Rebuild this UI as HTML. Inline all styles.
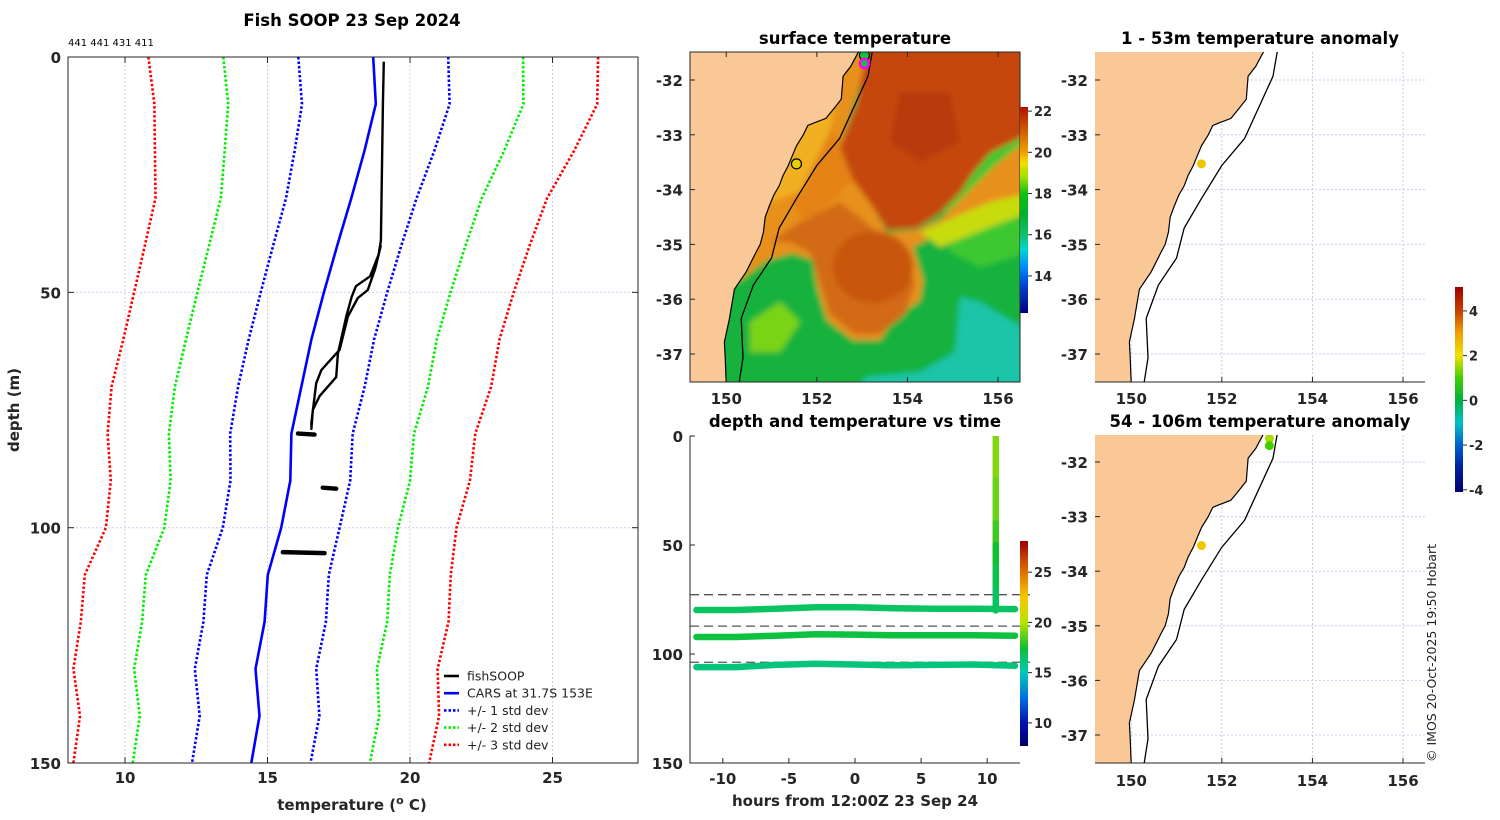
<!DOCTYPE html>
<html><head><meta charset="utf-8"><style>
html,body{margin:0;padding:0;background:#fff;}
svg{display:block;font-family:"DejaVu Sans","Liberation Sans",sans-serif;}
.tk{font-size:15px;font-weight:bold;fill:#262626;}
.ttl{font-size:16.5px;font-weight:bold;fill:#000;}
</style></head><body>
<svg id="fig" width="1500" height="820" viewBox="0 0 1500 820" xmlns="http://www.w3.org/2000/svg">
<defs>
<clipPath id="clipProf"><rect x="68" y="57" width="570" height="706"/></clipPath>
<clipPath id="clipSST"><rect x="690" y="52" width="330" height="330"/></clipPath>
<clipPath id="clipA1"><rect x="1095" y="52" width="330" height="330"/></clipPath>
<clipPath id="clipA2"><rect x="1095" y="435" width="330" height="328"/></clipPath>
<clipPath id="clipDT"><rect x="690" y="436" width="340" height="327"/></clipPath>
<filter id="blur" x="-5%" y="-5%" width="110%" height="110%"><feGaussianBlur stdDeviation="3"/></filter>
</defs>

<text class="ttl" x="352" y="26" text-anchor="middle">Fish SOOP 23 Sep 2024</text>
<text x="68" y="46" font-size="10" fill="#000">441 441 431 411</text>
<g id="profGrid"></g>
<g id="profMarks" clip-path="url(#clipProf)"></g>
<rect x="68" y="57" width="570" height="706" fill="none" stroke="#262626" stroke-width="1"/>
<g id="profTicks"></g>
<text class="tk" x="352" y="810" text-anchor="middle" font-size="16.5">temperature (<tspan font-size="11" dy="-6">o</tspan><tspan dy="6"> C)</tspan></text>
<text class="tk" transform="translate(19,410) rotate(-90)" text-anchor="middle" font-size="16.5">depth (m)</text>
<g id="legend"></g>

<text class="ttl" x="855" y="44" text-anchor="middle">surface temperature</text>
<g clip-path="url(#clipSST)">
 <g transform="translate(690,52)" filter="url(#blur)">
  <rect x="-10" y="-10" width="350" height="350" fill="#14b23c"/>
  <path d="M250,110 L340,80 L340,200 L290,215 L260,200 Z" fill="#3cc830"/>
  <path d="M137,-10 L183,-10 L150,95 L163,128 L183,155 L197,181 L227,178 L250,168 L283,135 L303,115 L340,85 L340,141 L300,155 L250,181 L223,195 L233,228 L230,248 L203,268 L190,288 L163,288 L137,268 L127,235 L123,208 L103,201 L77,208 L50,228 L33,235 L20,-10 Z" fill="#e8901a"/>
  <path d="M150,150 L200,190 L225,230 L215,262 L190,282 L165,282 L140,262 L130,230 L120,200 L100,190 L80,190 L110,170 Z" fill="#d26a12"/>
  <ellipse cx="183" cy="215" rx="40" ry="36" fill="#c8560f"/>
  <path d="M178,-10 L340,-10 L340,81 L300,101 L283,121 L270,141 L250,161 L227,176 L197,178 L183,155 L163,128 L150,95 L167,51 Z" fill="#c5470f"/>
  <path d="M210,40 L260,40 L270,90 L230,110 L200,90 Z" fill="#b83a0c"/>
  <path d="M140,70 L150,95 L163,128 L140,150 L115,170 L100,150 L120,110 Z" fill="#e48218"/>
  <path d="M70,100 L110,80 L130,50 L150,20 L140,80 L110,140 L80,150 L60,140 Z" fill="#f0b020"/>
  <path d="M230,180 L300,150 L340,141 L340,160 L300,175 L250,195 Z" fill="#c8dc10"/>
  <path d="M175,325 L230,320 L265,300 L270,245 L290,250 L340,280 L340,340 L170,340 Z" fill="#1cc4a8"/>
  <path d="M60,270 L90,250 L110,270 L90,300 L60,300 Z" fill="#7ad414"/>
 </g>
 <g id="sstOverlay"></g>
</g>
<rect x="690" y="52" width="330" height="330" fill="none" stroke="#262626" stroke-width="1"/>
<g id="sstTicks"></g>
<rect x="1020" y="107" width="8" height="206" fill="url(#gSST)"/>

<text class="ttl" x="1260" y="44" text-anchor="middle">1 - 53m temperature anomaly</text>
<text class="ttl" x="1260" y="427" text-anchor="middle">54 - 106m temperature anomaly</text>
<g id="a1" clip-path="url(#clipA1)"></g>
<g id="a2" clip-path="url(#clipA2)"></g>
<g id="aTicks"></g>
<rect x="1455" y="287" width="8" height="205" fill="url(#gANOM)"/>
<text transform="translate(1436,762) rotate(-90)" font-size="12.5" fill="#222">© IMOS 20-Oct-2025 19:50 Hobart</text>

<text class="ttl" x="855" y="427" text-anchor="middle">depth and temperature vs time</text>
<g id="dt" clip-path="url(#clipDT)"></g>
<path d="M690,436 L690,763 L1020,763" fill="none" stroke="#262626" stroke-width="1"/>
<g id="dtTicks"></g>
<rect x="1020" y="541" width="8" height="205" fill="url(#gDT)"/>
<text class="tk" x="855" y="806" text-anchor="middle" font-size="16.5">hours from 12:00Z 23 Sep 24</text>
</svg>

<script>
const profDepth=[0,10,20,30,40,50,60,70,80,90,100,110,120,130,140,150];
const carsMean=[18.71,18.8,18.4,17.94,17.45,16.98,16.54,16.19,15.84,15.8,15.48,15.01,14.9,14.58,14.72,14.43];
const carsSd=[2.63,2.59,2.45,2.29,2.25,2.22,2.2,2.22,2.15,2.1,2.05,2.14,2.15,2.13,2.1,2.08];
const fishDepth=[1,10,39,42,46.6,48.7,51,55,63,68,72,75,79,77.7,69.3,66.5,62.2,55.1,51.2,49.5,45,40];
const fishTemp=[19.08,19.05,18.98,18.9,18.6,18.1,17.95,17.77,17.47,17.41,16.83,16.59,16.54,16.54,16.71,16.89,17.53,17.82,18.17,18.52,18.78,18.98];
const blobDepth=[80,91.5,105.2];
const blobTmin=[16.07,16.94,15.54];
const blobTmax=[16.65,17.41,17.0];
const tempTicks=[10,15,20,25];
const depthTicks=[0,50,100,150];
const dtHours=[-12,-9,-6,-3,0,3,6,9,12.1];
const dtDepth1=[79.8,79.8,79.2,78.6,78.6,79,79.2,79.2,79.4];
const dtDepth2=[92.2,92.2,91.6,90.9,91.1,91.4,91.4,91.4,91.6];
const dtDepth3=[106,106,105,104.5,104.8,105.2,105,104.8,105.4];
const dtTemp=[16.6,17.2,16.1];
const dashDepth=[72.8,87.2,103.8];
const castHour=10.65;
const castDepth=[0,20,40,50,60,70,80];
const castTemp=[19.3,19.1,18.6,17.8,17.2,16.8,16.5];
const hourTicks=[-10,-5,0,5,10];
const coastLon=[152.95,152.91,152.75,152.58,152.54,152.35,152.2,151.95,151.8,151.7,151.55,151.45,151.37,151.25,151.17,151.05,150.95,150.86,150.82,150.75,150.66,150.44,150.18,150.07,149.96,149.98,150.0];
const coastLat=[-31.45,-31.5,-31.75,-31.93,-32.35,-32.55,-32.7,-32.78,-32.83,-33.0,-33.2,-33.4,-33.56,-33.75,-33.93,-34.1,-34.3,-34.5,-34.78,-35.0,-35.14,-35.5,-35.82,-36.36,-36.78,-37.1,-37.55];
const isoLon=[153.24,153.22,153.13,152.87,152.5,152.0,151.55,151.17,151.0,150.6,150.33,150.37,150.28];
const isoLat=[-31.45,-31.5,-31.93,-32.4,-33.07,-33.56,-34.16,-34.7,-35.25,-35.74,-36.35,-37.07,-37.55];
const lonTicks=[150,152,154,156];
const latTicks=[-32,-33,-34,-35,-36,-37];
const anom1Lon=[151.55], anom1Lat=[-33.53], anom1Val=[2.4];
const anom2Lon=[151.55,153.05,153.05], anom2Lat=[-33.53,-31.57,-31.7], anom2Val=[2.4,1.6,1.0];
const sstTicks=[14,16,18,20,22];
const dtCbTicks=[10,15,20,25];
const anomTicks=[-4,-2,0,2,4];
const sstStopV=[12.2,13.5,14.5,15.3,16,17,18,18.8,19.5,20,21,22.2];
const sstStopC=['#00007f','#0040d0','#0090ff','#00d8d0','#10c070','#00b030','#10c010','#a0e000','#f0e000','#f0a000','#d06000','#b01000'];
const dtStopV=[7.7,10,12.5,15,17.5,20,22.5,25,28.1];
const dtStopC=['#00006a','#0010b0','#0070e0','#00c8b8','#10c030','#b8e400','#f8c800','#e07000','#a00000'];
const anStopV=[-4.1,-3,-2,-1,0,1,2,3,4,5.07];
const anStopC=['#000070','#0020a0','#0060d0','#00c0c8','#00b040','#40d000','#f0e000','#f0a000','#c84000','#a00000'];

const NS='http://www.w3.org/2000/svg';
function mk(tag,attrs,parent){const e=document.createElementNS(NS,tag);for(const k in attrs)e.setAttribute(k,attrs[k]);parent.appendChild(e);return e;}
function hex(c){return [parseInt(c.substr(1,2),16),parseInt(c.substr(3,2),16),parseInt(c.substr(5,2),16)];}
function cmap(v,sv,sc){if(v<=sv[0])return sc[0];for(let i=1;i<sv.length;i++){if(v<=sv[i]){const f=(v-sv[i-1])/(sv[i]-sv[i-1]);const a=hex(sc[i-1]),b=hex(sc[i]);return 'rgb('+a.map((x,j)=>Math.round(x+(b[j]-x)*f)).join(',')+')';}}return sc[sc.length-1];}
const defs=document.querySelector('defs');
function grad(id,sv,sc){const g=mk('linearGradient',{id:id,x1:0,y1:1,x2:0,y2:0},defs);const lo=sv[0],hi=sv[sv.length-1];sv.forEach((v,i)=>mk('stop',{offset:((v-lo)/(hi-lo)).toFixed(3),'stop-color':sc[i]},g));}
grad('gSST',sstStopV,sstStopC);grad('gDT',dtStopV,dtStopC);grad('gANOM',anStopV,anStopC);

const xT=t=>68+(t-8)*28.5, yD=d=>57+d*4.707;
const pg=document.getElementById('profGrid');
tempTicks.forEach(t=>{const l=mk('line',{x1:xT(t),x2:xT(t),y1:57,y2:763,stroke:'#d4cce8','stroke-width':1,'stroke-dasharray':'2,2'},pg);

});
depthTicks.slice(1,3).forEach(d=>{const l=mk('line',{x1:68,x2:638,y1:yD(d),y2:yD(d),stroke:'#ccd0ee','stroke-width':1,'stroke-dasharray':'2,2'},pg);

});
const pm=document.getElementById('profMarks');
const bands=[[3,'#ff0000'],[2,'#00ee00'],[1,'#0000ff']];
bands.forEach(([k,c])=>{[-1,1].forEach(s=>{const pts=profDepth.map((d,i)=>xT(carsMean[i]+s*k*carsSd[i]).toFixed(1)+','+yD(d).toFixed(1)).join(' ');
const p=mk('polyline',{points:pts,fill:'none',stroke:c,'stroke-width':2.6,'stroke-dasharray':'2.5,2'},pm);

});});
const cars=mk('polyline',{points:profDepth.map((d,i)=>xT(carsMean[i]).toFixed(1)+','+yD(d).toFixed(1)).join(' '),fill:'none',stroke:'#0000ff','stroke-width':2.6},pm);


const fish=mk('polyline',{points:fishDepth.map((d,i)=>xT(fishTemp[i]).toFixed(1)+','+yD(d).toFixed(1)).join(' '),fill:'none',stroke:'#000','stroke-width':2.4,'stroke-linejoin':'round'},pm);


blobDepth.forEach((d,i)=>{const b=mk('line',{x1:xT(blobTmin[i]),x2:xT(blobTmax[i]),y1:yD(d),y2:yD(d)+1,stroke:'#000','stroke-width':4.5,'stroke-linecap':'round'},pm);

});
const pt=document.getElementById('profTicks');
tempTicks.forEach(t=>{mk('line',{x1:xT(t),x2:xT(t),y1:763,y2:757,stroke:'#262626'},pt);mk('line',{x1:xT(t),x2:xT(t),y1:57,y2:63,stroke:'#262626'},pt);
const tx=mk('text',{x:xT(t),y:783,'text-anchor':'middle',class:'tk'},pt);tx.textContent=t;

});
depthTicks.forEach(d=>{mk('line',{x1:68,x2:74,y1:yD(d),y2:yD(d),stroke:'#262626'},pt);mk('line',{x1:632,x2:638,y1:yD(d),y2:yD(d),stroke:'#262626'},pt);
const tx=mk('text',{x:61,y:yD(d)+6,'text-anchor':'end',class:'tk'},pt);tx.textContent=d;

});
const lg=document.getElementById('legend');
const legItems=[['fishSOOP','#000',''],['CARS at 31.7S 153E','#0000ff',''],['+/- 1 std dev','#0000ff','2.5,2'],['+/- 2 std dev','#00ee00','2.5,2'],['+/- 3 std dev','#ff0000','2.5,2']];
legItems.forEach((it,i)=>{const y=676+i*17.2;const l=mk('line',{x1:444,x2:459,y1:y,y2:y,stroke:it[1],'stroke-width':2.6,'stroke-dasharray':it[2]||'none'},lg);


const t=mk('text',{x:467,y:y+4.5,'font-size':12.5,fill:'#222'},lg);t.textContent=it[0];

});

const lonX=(x0)=>lon=>x0+(lon-149.2)*45.3;
function drawMap(g,x0,yref,scale,yTop,yBot,withLand,withGrid){
 const X=lonX(x0), Y=lat=>yref+(-32-lat)*scale;
 if(withGrid){lonTicks.forEach(l=>{const e=mk('line',{x1:X(l),x2:X(l),y1:yTop,y2:yBot,stroke:'#c8cce8','stroke-dasharray':'2,2'},g);
 
 });
 latTicks.forEach(l=>{const e=mk('line',{x1:x0,x2:x0+330,y1:Y(l),y2:Y(l),stroke:'#c8cce8','stroke-dasharray':'2,2'},g);
 
 });}
 let d='M'+(x0-5)+','+(yTop-5);
 coastLon.forEach((lo,i)=>{d+=' L'+X(lo).toFixed(1)+','+Y(coastLat[i]).toFixed(1);});
 d+=' L'+(x0-5)+','+(yBot+5)+' Z';
 const land=mk('path',{d:d,fill:'#fac896',stroke:'#000','stroke-width':1.2},g);
 
 
 const iso=mk('polyline',{points:isoLon.map((lo,i)=>X(lo).toFixed(1)+','+Y(isoLat[i]).toFixed(1)).join(' '),fill:'none',stroke:'#000','stroke-width':1.3},g);
 
 
 return [X,Y];
}
function mapTicks(g,x0,yref,scale,yTop,yBot,lonLabY){
 const X=lonX(x0), Y=lat=>yref+(-32-lat)*scale;
 lonTicks.forEach(l=>{mk('line',{x1:X(l),x2:X(l),y1:yBot,y2:yBot-5,stroke:'#262626'},g);
 const t=mk('text',{x:X(l),y:lonLabY,'text-anchor':'middle',class:'tk'},g);t.textContent=l;
 
 });
 latTicks.forEach(l=>{mk('line',{x1:x0,x2:x0+5,y1:Y(l),y2:Y(l),stroke:'#262626'},g);
 const t=mk('text',{x:x0-7,y:Y(l)+6,'text-anchor':'end',class:'tk'},g);t.textContent=l;
 
 });
}
const so=document.getElementById('sstOverlay');
const [sX,sY]=drawMap(so,690,80,54.8,52,382,true,false);
const c1=mk('circle',{cx:sX(153.05),cy:sY(-31.55),r:5,fill:'#10c040',stroke:'#000','stroke-width':1},so);


const c2=mk('circle',{cx:sX(153.05),cy:sY(-31.7),r:4.5,fill:'#10c040',stroke:'#ff00ff','stroke-width':2.5},so);


const c3=mk('circle',{cx:sX(151.55),cy:sY(-33.53),r:5,fill:'#e8d000',stroke:'#000','stroke-width':1.2},so);


const st=document.getElementById('sstTicks');
mapTicks(st,690,80,54.8,52,382,404);
lonTicks.forEach(l=>mk('line',{x1:sX(l),x2:sX(l),y1:52,y2:57,stroke:'#262626'},st));
sstTicks.forEach(v=>{const y=313-(v-12.2)/(22.2-12.2)*206;mk('line',{x1:1028,x2:1032,y1:y,y2:y,stroke:'#262626'},st);
const t=mk('text',{x:1034,y:y+5,'font-size':13,'font-weight':'bold',fill:'#262626'},st);t.textContent=v;

});
const a1=document.getElementById('a1'), a2=document.getElementById('a2');
const [X1,Y1]=drawMap(a1,1095,80,54.8,52,382,true,true);
const [X2,Y2]=drawMap(a2,1095,462,54.6,435,763,true,true);
anom1Lon.forEach((lo,i)=>{const c=mk('circle',{cx:X1(lo),cy:Y1(anom1Lat[i]),r:4.5,fill:cmap(anom1Val[i],anStopV,anStopC)},a1);

});
anom2Lon.forEach((lo,i)=>{const c=mk('circle',{cx:X2(lo),cy:Y2(anom2Lat[i]),r:4.5,fill:cmap(anom2Val[i],anStopV,anStopC)},a2);

});
const at=document.getElementById('aTicks');
mk('line',{x1:1095,x2:1425,y1:382,y2:382,stroke:'#262626'},at);
mk('line',{x1:1095,x2:1425,y1:763,y2:763,stroke:'#262626'},at);
mapTicks(at,1095,80,54.8,52,382,404);
mapTicks(at,1095,462,54.6,435,763,786);
anomTicks.forEach(v=>{const y=492-(v+4.1)/(5.07+4.1)*205;mk('line',{x1:1463,x2:1467,y1:y,y2:y,stroke:'#262626'},at);
const t=mk('text',{x:1469,y:y+5,'font-size':13,'font-weight':'bold',fill:'#262626'},at);t.textContent=v;

});

const xH=h=>855+h*13.22, yZ=d=>436+d*2.18;
const dt=document.getElementById('dt');
dashDepth.forEach(d=>{const l=mk('line',{x1:690,x2:1030,y1:yZ(d),y2:yZ(d),stroke:'#555','stroke-width':1.3,'stroke-dasharray':'9,5'},dt);

});
[dtDepth1,dtDepth2,dtDepth3].forEach((arr,k)=>{const p=mk('polyline',{points:dtHours.map((h,i)=>xH(h).toFixed(1)+','+yZ(arr[i]).toFixed(1)).join(' '),fill:'none',stroke:cmap(dtTemp[k],dtStopV,dtStopC),'stroke-width':6.5,'stroke-linecap':'round'},dt);

});
for(let i=1;i<castDepth.length;i++){const s=mk('line',{x1:xH(castHour),x2:xH(castHour),y1:yZ(castDepth[i-1]),y2:yZ(castDepth[i]),stroke:cmap((castTemp[i-1]+castTemp[i])/2,dtStopV,dtStopC),'stroke-width':6.5,'stroke-linecap':'round'},dt);

}
const dtt=document.getElementById('dtTicks');
hourTicks.forEach(h=>{mk('line',{x1:xH(h),x2:xH(h),y1:763,y2:758,stroke:'#262626'},dtt);
const t=mk('text',{x:xH(h),y:784,'text-anchor':'middle',class:'tk'},dtt);t.textContent=h;

});
depthTicks.forEach(d=>{mk('line',{x1:690,x2:695,y1:yZ(d),y2:yZ(d),stroke:'#262626'},dtt);
const t=mk('text',{x:683,y:yZ(d)+6,'text-anchor':'end',class:'tk'},dtt);t.textContent=d;

});
dtCbTicks.forEach(v=>{const y=746-(v-7.7)/(28.1-7.7)*205;mk('line',{x1:1028,x2:1032,y1:y,y2:y,stroke:'#262626'},dtt);
const t=mk('text',{x:1034,y:y+5,'font-size':13,'font-weight':'bold',fill:'#262626'},dtt);t.textContent=v;

});
</script>
</body></html>
